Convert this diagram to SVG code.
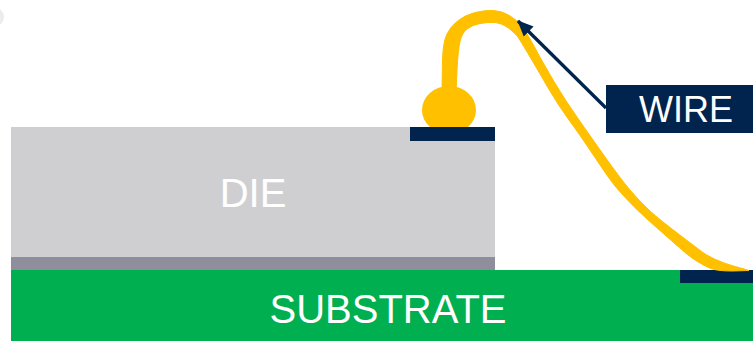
<svg xmlns="http://www.w3.org/2000/svg" width="753" height="341" viewBox="0 0 753 341">
<defs>
<style>
.navy{fill:#00244d}
.gold{fill:#ffc000}
.label{font-family:"Liberation Sans",Arial,sans-serif;fill:#fff;text-anchor:middle}
</style>
<marker id="arrow" markerUnits="userSpaceOnUse" markerWidth="16" markerHeight="16" refX="15" refY="8" orient="auto"><path d="M0 1L16 8L0 15Z" class="navy"/></marker>
</defs>
<rect width="753" height="341" fill="#fff"/>
<ellipse cx="-4" cy="17" rx="8" ry="9" fill="#ececec"/>
<g id="die"><rect x="11" y="127" width="484" height="130" fill="#cfcfd1"/><text x="253" y="207" font-size="40" class="label">DIE</text></g>
<g id="attach"><rect x="11" y="257" width="484" height="13" fill="#8e8e9c"/></g>
<g id="substrate"><rect x="11" y="270" width="742" height="71" fill="#00b050"/><text x="388" y="323" font-size="40" class="label">SUBSTRATE</text></g>
<g id="pad-right"><rect class="navy" x="680" y="270" width="73" height="13"/></g>
<g id="wire-shape">
<path class="gold" stroke="#ffc000" stroke-width="1" stroke-linejoin="round" d="M442 92L442.5 60Q443 43 446.5 35Q450 27 457.5 21Q465 15 475 12.5Q485 10 493.5 10.5Q502 11 509.5 15.5Q517 20 522 26.5Q527 33 535 48Q543 63 554 81.5Q565 100 579 120Q593 140 606.5 159Q620 178 630 190Q640 202 650 211Q660 220 678.5 234Q697 248 701.5 251.5Q706 255 714.5 259Q723 263 735 266.5Q748 270 749 270.5L732 271Q716 271 709.5 268Q703 265 696.5 261Q690 257 681.5 249.5Q673 242 665 235Q657 228 647 219Q637 210 628.5 201Q620 192 615 186Q610 180 595 157.5Q580 135 569 120Q558 105 547 86Q536 67 528 53.5Q520 40 517.5 36.5Q515 33 508.5 28Q502 23 495 22.5Q488 22 480 23.5Q472 25 467 29Q462 33 460 41.5Q458 50 457 70L456 92Z"/>
</g>
<g id="ball"><ellipse class="gold" cx="449" cy="110" rx="27" ry="24"/></g>
<g id="pad-left"><rect class="navy" x="410" y="127" width="85" height="14"/></g>
<g id="connectors"><line x1="606" y1="108" x2="518" y2="21" stroke="#00244d" stroke-width="3.3" marker-end="url(#arrow)"/></g>
<g id="wire-label"><rect class="navy" x="606" y="85" width="147" height="48"/><text x="686" y="122" font-size="36" class="label">WIRE</text></g>
</svg>
